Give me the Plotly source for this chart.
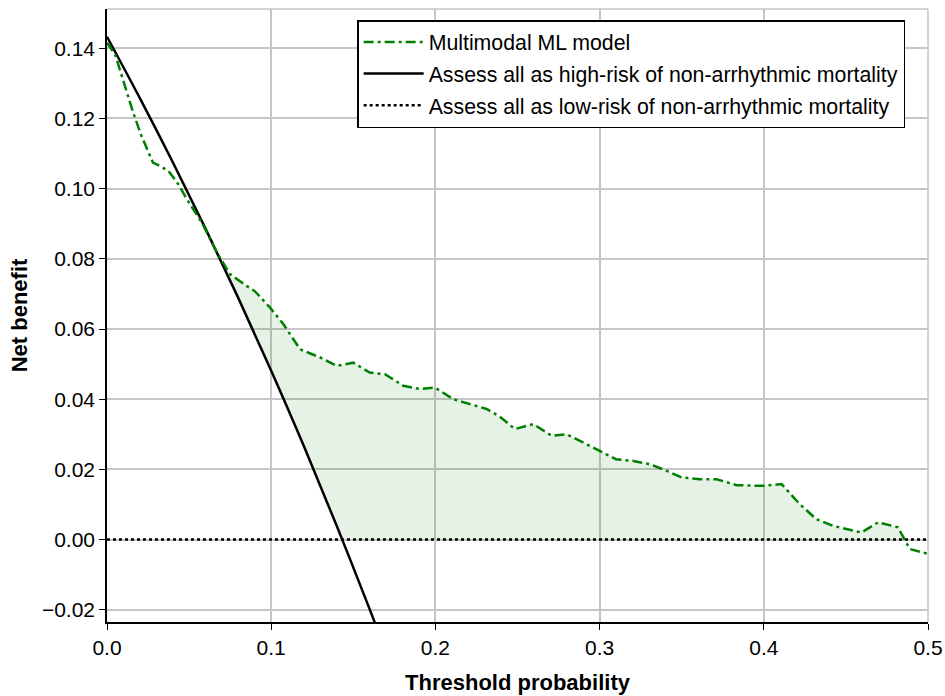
import numpy as np
import plotly.graph_objects as go

# Multimodal ML model net benefit
model_x = [0, 0.005, 0.016, 0.021, 0.028, 0.0324, 0.0375, 0.0435, 0.0486, 0.0578, 0.0669,
           0.075, 0.085, 0.090, 0.0993, 0.1074, 0.1176, 0.1298, 0.140, 0.150, 0.160, 0.1693,
           0.1805, 0.1906, 0.1998, 0.2109, 0.2211, 0.2312, 0.2393, 0.2484, 0.2596, 0.2708,
           0.280, 0.292, 0.300, 0.310, 0.3205, 0.3306, 0.3408, 0.350, 0.361, 0.3712, 0.3834,
           0.3996, 0.4108, 0.4219, 0.432, 0.4422, 0.4594, 0.4696, 0.4817, 0.4889, 0.500]
model_y = [0.1416, 0.1382, 0.1216, 0.1150, 0.1074, 0.1064, 0.1050, 0.1012, 0.0970, 0.0903, 0.0818,
           0.0756, 0.0723, 0.0708, 0.0661, 0.0614, 0.0542, 0.0519, 0.0495, 0.0504, 0.0476, 0.0471,
           0.0438, 0.0429, 0.0433, 0.0400, 0.0386, 0.0372, 0.0350, 0.0315, 0.0329, 0.0296,
           0.0300, 0.0272, 0.0253, 0.0229, 0.0224, 0.0215, 0.0196, 0.0177, 0.0172, 0.0172, 0.0155,
           0.0153, 0.0158, 0.0101, 0.0058, 0.0039, 0.0020, 0.0049, 0.0035, -0.0027, -0.0041]

# Treat-all (high-risk) line
all_x = [0.0, 0.02, 0.04, 0.06, 0.08, 0.10, 0.12, 0.14, 0.16, 0.17]
all_y = [0.1433, 0.1258, 0.1076, 0.0886, 0.0688, 0.0481, 0.0265, 0.0038, -0.0199, -0.0322]

# Treat-none (low-risk) line
none_x = [0.0, 0.5]
none_y = [0.0, 0.0]

x_ticks = [0.0, 0.1, 0.2, 0.3, 0.4, 0.5]
y_ticks = [-0.02, 0.0, 0.02, 0.04, 0.06, 0.08, 0.10, 0.12, 0.14]

GREEN = "#008000"
FONT = "Liberation Sans, Arial, Helvetica, sans-serif"
GRID = "#c6c6c6"

# shaded area: between model curve and best default strategy, where the model is better
grid = np.linspace(0, 0.5, 1001)
m_i = np.interp(grid, model_x, model_y)
a_i = np.interp(grid, all_x, all_y)
lower = np.maximum(a_i, 0.0)
upper = np.maximum(m_i, lower)

fig = go.Figure()
fig.add_trace(go.Scatter(x=grid, y=lower, mode="lines", line=dict(width=0, color="rgba(0,0,0,0)"),
                         showlegend=False, hoverinfo="skip"))
fig.add_trace(go.Scatter(x=grid, y=upper, mode="lines", line=dict(width=0, color="rgba(0,0,0,0)"),
                         fill="tonexty", fillcolor="rgba(0,128,0,0.10)",
                         showlegend=False, hoverinfo="skip"))

fig.add_trace(go.Scatter(x=none_x, y=none_y, mode="lines",
                         name="Assess all as low-risk of non-arrhythmic mortality",
                         line=dict(color="black", width=2.5, dash="3px,3px"),
                         legendgroup="c", legendrank=3))
fig.add_trace(go.Scatter(x=all_x, y=all_y, mode="lines", line_shape="spline",
                         name="Assess all as high-risk of non-arrhythmic mortality",
                         line=dict(color="black", width=2.5),
                         legendgroup="b", legendrank=2))
fig.add_trace(go.Scatter(x=model_x, y=model_y, mode="lines",
                         name="Multimodal ML model",
                         line=dict(color=GREEN, width=2.5, dash="10px,4px,3px,4px"),
                         legendgroup="a", legendrank=1))

fig.update_layout(
    width=945, height=696,
    margin=dict(l=107, r=17, t=9, b=74),
    paper_bgcolor="white", plot_bgcolor="white",
    font=dict(family=FONT, size=21, color="black"),
    legend=dict(x=0.3047, y=0.982, xanchor="left", yanchor="top",
                bordercolor="black", borderwidth=1.5, bgcolor="white",
                font=dict(size=21.3), traceorder="grouped", tracegroupgap=1,
                itemwidth=60),
    xaxis=dict(range=[0, 0.5], tickvals=x_ticks, tickformat=".1f",
               showgrid=True, gridcolor=GRID, gridwidth=1.5,
               showline=True, linecolor="black", linewidth=1.5,
               ticks="outside", ticklen=6, tickcolor="black", zeroline=False,
               tickfont=dict(size=21), automargin=False,
               title=dict(text="<b>Threshold probability</b>", standoff=17,
                          font=dict(size=22))),
    yaxis=dict(range=[-0.0235, 0.1512], tickvals=y_ticks, tickformat=".2f",
               showgrid=True, gridcolor=GRID, gridwidth=1.5,
               showline=True, linecolor="black", linewidth=1.5,
               ticks="outside", ticklen=6, tickcolor="black", zeroline=False,
               tickfont=dict(size=21), ticklabelstandoff=0, automargin=False,
               title=dict(text="<b>Net benefit</b>", standoff=8,
                          font=dict(size=22))),
    shapes=[
        dict(type="line", xref="paper", yref="paper", x0=0, x1=1, y0=1, y1=1,
             line=dict(color=GRID, width=1.5)),
        dict(type="line", xref="paper", yref="paper", x0=1, x1=1, y0=0, y1=1,
             line=dict(color=GRID, width=1.5)),
    ],
)

fig.write_html("out.html")
